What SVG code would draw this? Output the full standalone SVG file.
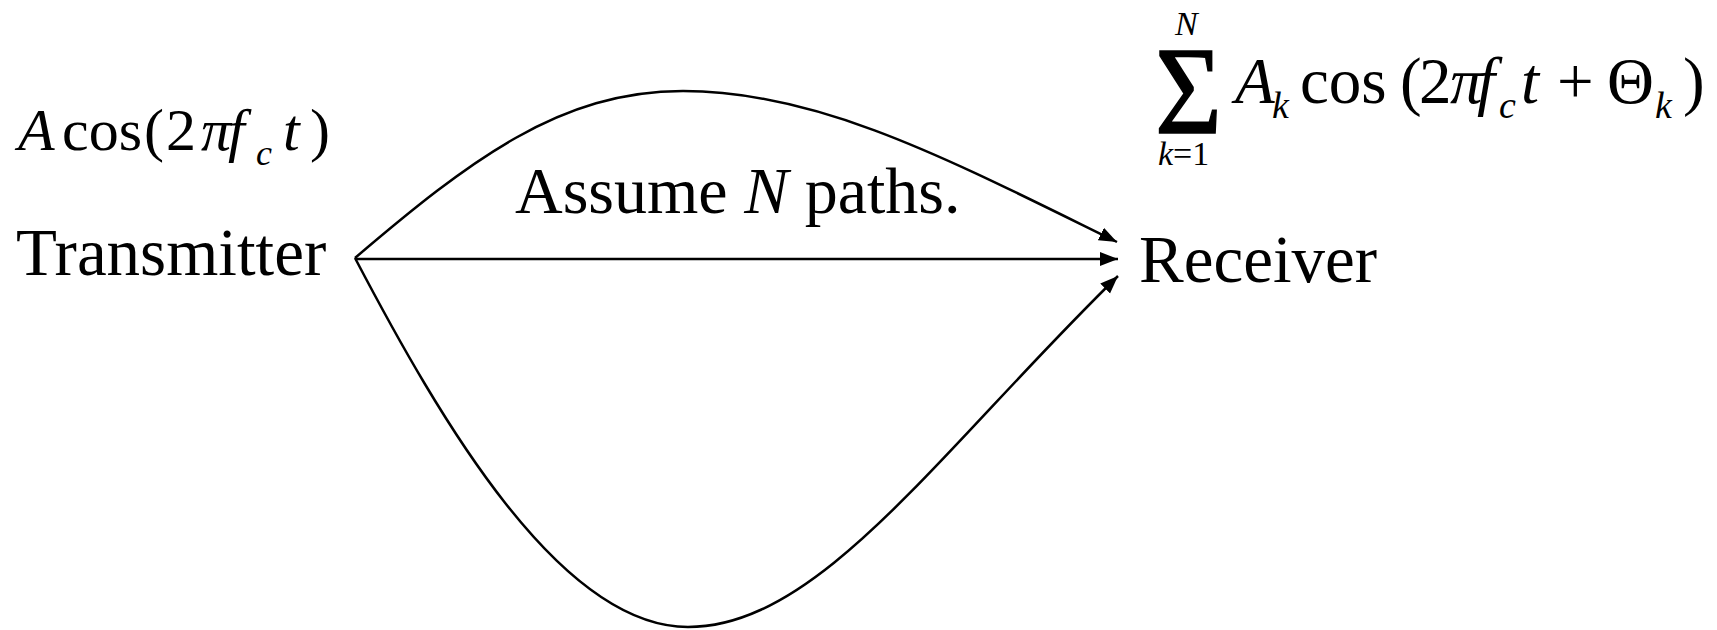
<svg xmlns="http://www.w3.org/2000/svg" width="1717" height="630" viewBox="0 0 1717 630">
<style>
.t{font-family:"Liberation Serif","Times New Roman",serif;fill:#000}
.i{font-style:italic}
.c{fill:none;stroke:#000;stroke-width:2.5}
</style>
<defs>
<marker id="ah" markerUnits="userSpaceOnUse" markerWidth="20" markerHeight="16" refX="18" refY="7" orient="auto" viewBox="0 0 20 14">
<path d="M0,0 L18,7 L0,14 Z" fill="#000"/>
</marker>
</defs>
<rect width="1717" height="630" fill="#fff"/>
<g id="transmitter">
<text class="t" x="16" y="275" font-size="67">Transmitter</text>
</g>
<g id="receiver">
<text class="t" x="1139" y="282" font-size="67">Receiver</text>
</g>
<g id="tx-signal">
<text class="t i" x="18" y="150" font-size="60">A</text>
<text class="t" x="62" y="150" font-size="60">cos</text>
<text class="t" x="144" y="150" font-size="60">(</text>
<text class="t" x="166" y="150" font-size="60">2</text>
<text class="t i" x="201" y="150" font-size="60">π</text>
<text class="t i" x="228" y="150" font-size="60">f</text>
<text class="t i" x="256" y="165" font-size="36">c</text>
<text class="t i" x="283" y="150" font-size="60">t</text>
<text class="t" x="310" y="150" font-size="60">)</text>
</g>
<g id="label">
<text class="t" x="515" y="213" font-size="66">Assume <tspan class="i">N</tspan> paths.</text>
</g>
<g id="rx-signal">
<text class="t" x="1155" y="133" font-size="125" textLength="67" lengthAdjust="spacingAndGlyphs" stroke="#000" stroke-width="1.5">Σ</text>
<text class="t i" x="1175" y="35" font-size="34">N</text>
<text class="t" x="1158" y="165" font-size="34"><tspan class="i">k</tspan>=1</text>
<text class="t i" x="1235" y="103" font-size="65">A</text>
<text class="t i" x="1272" y="118" font-size="38">k</text>
<text class="t" x="1300" y="103" font-size="65">cos</text>
<text class="t" x="1400" y="103" font-size="65">(</text>
<text class="t" x="1419" y="103" font-size="65">2</text>
<text class="t i" x="1450" y="103" font-size="65">π</text>
<text class="t i" x="1477" y="103" font-size="65">f</text>
<text class="t i" x="1499" y="118" font-size="38">c</text>
<text class="t i" x="1521" y="103" font-size="65">t</text>
<text class="t" x="1557" y="103" font-size="65">+</text>
<text class="t" x="1607" y="103" font-size="65">Θ</text>
<text class="t i" x="1655" y="118" font-size="38">k</text>
<text class="t" x="1683" y="103" font-size="65">)</text>
</g>
<g id="connectors">
<path class="c" d="M355,258 C470,160 560,91 683,91 C820,91 950,160 1117,242" marker-end="url(#ah)"/>
<path class="c" d="M355,259 L1118,259" marker-end="url(#ah)"/>
<path class="c" d="M355,258 C440,420 560,627 688,627 C820,627 940,450 1118,276" marker-end="url(#ah)"/>
</g>
</svg>
